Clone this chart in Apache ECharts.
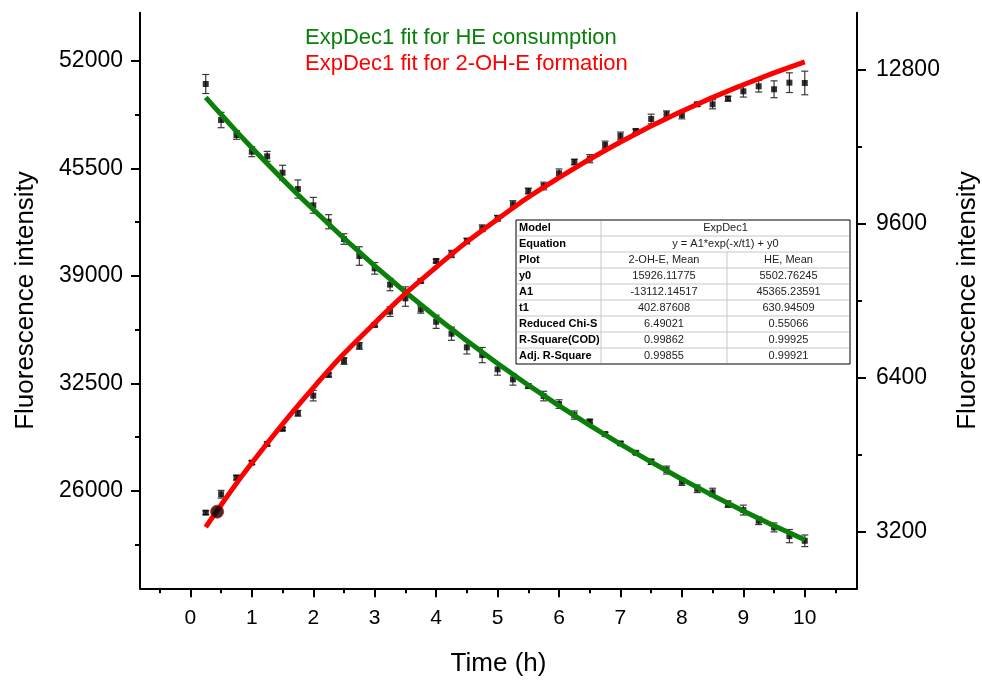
<!DOCTYPE html>
<html>
<head>
<meta charset="utf-8">
<script src="https://cdn.jsdelivr.net/npm/echarts@6/dist/echarts.min.js"></script>
<style>
  html, body { margin: 0; padding: 0; background: #fff; overflow: hidden; }
  #chart { width: 982px; height: 683px; }
</style>
</head>
<body>
<div id="chart"></div>
<script>
// sampling times (h)
const hours = [0.25, 0.5, 0.75, 1, 1.25, 1.5, 1.75, 2, 2.25, 2.5, 2.75, 3, 3.25, 3.5, 3.75, 4, 4.25, 4.5, 4.75, 5,
  5.25, 5.5, 5.75, 6, 6.25, 6.5, 6.75, 7, 7.25, 7.5, 7.75, 8, 8.25, 8.5, 8.75, 9, 9.25, 9.5, 9.75, 10];

// HE consumption (left axis)
const heMean = [50608, 48429, 47522, 46511, 46232, 45240, 44253, 43267, 42274, 41227, 40199, 39454, 38470, 37638, 36972, 36222, 35500, 34673, 34207, 33342,
  32737, 32331, 31726, 31242, 30576, 30195, 29426, 28863, 28294, 27751, 27248, 26540, 26117, 25899, 25190, 24827, 24180, 23780, 23253, 22969];
const heErr = [575, 465, 260, 300, 300, 450, 550, 480, 430, 320, 560, 350, 370, 480, 230, 400, 400, 400, 460, 350,
  350, 120, 290, 260, 250, 100, 110, 110, 100, 160, 240, 220, 230, 250, 200, 300, 230, 270, 400, 350];

// 2-OH-E formation (right axis)
const ohMean = [3596, 3979, 4324, 4636, 5025, 5336, 5663, 6029, 6459, 6750, 7062, 7499, 7775, 8191, 8413, 8829, 8975, 9244, 9509, 9717,
  10008, 10284, 10388, 10652, 10887, 10956, 11241, 11428, 11532, 11781, 11879, 11864, 12087, 12087, 12204, 12357, 12461, 12399, 12536, 12530];
const ohErr = [40, 80, 50, 40, 40, 30, 60, 110, 40, 70, 70, 40, 100, 100, 40, 40, 75, 60, 70, 60,
  75, 60, 80, 90, 60, 85, 80, 80, 40, 100, 70, 80, 40, 95, 50, 120, 120, 175, 205, 245];

// fitted curves
const fitHours = [0.25, 0.5, 1, 2, 3, 4, 5, 6, 7, 8, 9, 10];
const heFit = [49802, 48761, 46753, 43011, 39608, 36514, 33701, 31143, 28817, 26702, 24779, 23030];
const ohFit = [3293, 3755, 4628, 6192, 7539, 8699, 9699, 10561, 11303, 11943, 12494, 12969];

// highlighted point
const markPoint = [0.435, 3617];

// ticks
const xTicks = [0, 1, 2, 3, 4, 5, 6, 7, 8, 9, 10];
const xMinor = [-0.5, 0.5, 1.5, 2.5, 3.5, 4.5, 5.5, 6.5, 7.5, 8.5, 9.5, 10.5];
const leftTicks = [26000, 32500, 39000, 45500, 52000];
const leftMinor = [22750, 29250, 35750, 42250, 48750];
const rightTicks = [3200, 6400, 9600, 12800];
const rightMinor = [4800, 8000, 11200];

// fit parameter table
const tableRows = [
  ['Model', 'ExpDec1'],
  ['Equation', 'y = A1*exp(-x/t1) + y0'],
  ['Plot', '2-OH-E, Mean', 'HE, Mean'],
  ['y0', '15926.11775', '5502.76245'],
  ['A1', '-13112.14517', '45365.23591'],
  ['t1', '402.87608', '630.94509'],
  ['Reduced Chi-S', '6.49021', '0.55066'],
  ['R-Square(COD)', '0.99862', '0.99925'],
  ['Adj. R-Square', '0.99855', '0.99921']
];

const FONT = '"Liberation Sans", Arial, sans-serif';
const HE_NAME = 'ExpDec1 fit for HE consumption';
const OH_NAME = 'ExpDec1 fit for 2-OH-E formation';

const chart = echarts.init(document.getElementById('chart'));

function errBar(params, api) {
  const x = api.value(0);
  const top = api.coord([x, api.value(2)]);
  const bot = api.coord([x, api.value(1)]);
  const w = 3.5;
  const st = { stroke: '#3a3a3a', lineWidth: 1.2 };
  return {
    type: 'group',
    children: [
      { type: 'line', shape: { x1: top[0], y1: top[1], x2: bot[0], y2: bot[1] }, style: st },
      { type: 'line', shape: { x1: top[0] - w, y1: top[1], x2: top[0] + w, y2: top[1] }, style: st },
      { type: 'line', shape: { x1: bot[0] - w, y1: bot[1], x2: bot[0] + w, y2: bot[1] }, style: st }
    ]
  };
}

// table drawn with graphic elements
function buildTable() {
  const x0 = 516, x1 = 601, x2 = 727, x3 = 850, y0 = 220, rh = 16;
  const h = rh * tableRows.length;
  const els = [];
  els.push({ type: 'rect', shape: { x: x0, y: y0, width: x3 - x0, height: h },
    style: { fill: '#fff', stroke: '#000', lineWidth: 1 } });
  for (let i = 1; i < tableRows.length; i++) {
    els.push({ type: 'line', shape: { x1: x0 + 1, y1: y0 + i * rh, x2: x3 - 1, y2: y0 + i * rh },
      style: { stroke: '#c8c8c8', lineWidth: 1 } });
  }
  els.push({ type: 'line', shape: { x1: x1, y1: y0 + 1, x2: x1, y2: y0 + h - 1 }, style: { stroke: '#c8c8c8', lineWidth: 1 } });
  els.push({ type: 'line', shape: { x1: x2, y1: y0 + 2 * rh, x2: x2, y2: y0 + h - 1 }, style: { stroke: '#c8c8c8', lineWidth: 1 } });
  tableRows.forEach((row, i) => {
    const cy = y0 + i * rh + rh / 2;
    els.push({ type: 'text', x: x0 + 3, y: cy,
      style: { text: row[0], fill: '#000', font: 'bold 11px ' + FONT, verticalAlign: 'middle', textAlign: 'left' } });
    if (row.length === 2) {
      els.push({ type: 'text', x: (x1 + x3) / 2, y: cy,
        style: { text: row[1], fill: '#222', font: '11px ' + FONT, verticalAlign: 'middle', textAlign: 'center' } });
    } else {
      els.push({ type: 'text', x: (x1 + x2) / 2, y: cy,
        style: { text: row[1], fill: '#222', font: '11px ' + FONT, verticalAlign: 'middle', textAlign: 'center' } });
      els.push({ type: 'text', x: (x2 + x3) / 2, y: cy,
        style: { text: row[2], fill: '#222', font: '11px ' + FONT, verticalAlign: 'middle', textAlign: 'center' } });
    }
  });
  return { type: 'group', z: 100, children: els };
}

const axisLine = { show: true, onZero: false, lineStyle: { color: '#000', width: 2 } };
const plain = v => String(v);
const labelStyle = { color: '#000', fontSize: 23, fontFamily: FONT, formatter: plain };

const option = {
  animation: false,
  backgroundColor: '#fff',
  textStyle: { fontFamily: FONT },
  grid: { left: 140, right: 125, top: 12.7, bottom: 94.7, containLabel: false, outerBoundsMode: 'none' },
  legend: {
    left: 295, top: 22, orient: 'vertical', itemGap: 4,
    itemWidth: 0, itemHeight: 0, selectedMode: false,
    textStyle: { fontSize: 22, fontFamily: FONT },
    data: [
      { name: HE_NAME, icon: 'rect', textStyle: { color: '#0a800a' } },
      { name: OH_NAME, icon: 'rect', textStyle: { color: '#ff0000' } }
    ]
  },
  xAxis: [
    {
      type: 'value', min: -0.82, max: 10.85, position: 'bottom',
      axisLine: axisLine,
      axisTick: { show: true, customValues: xTicks, length: 9, lineStyle: { color: '#000', width: 2 } },
      axisLabel: { customValues: xTicks, margin: 19, ...labelStyle, fontSize: 21 },
      splitLine: { show: false },
      name: 'Time (h)', nameLocation: 'middle', nameGap: 63,
      nameTextStyle: { fontSize: 26, color: '#000', fontFamily: FONT }
    },
    {
      type: 'value', min: -0.82, max: 10.85, position: 'bottom',
      axisLine: { show: false, onZero: false },
      axisTick: { show: true, customValues: xMinor, length: 5, lineStyle: { color: '#000', width: 2 } },
      axisLabel: { show: false },
      splitLine: { show: false }
    }
  ],
  yAxis: [
    {
      type: 'value', min: 20095, max: 54922, position: 'left',
      axisLine: axisLine,
      axisTick: { show: true, customValues: leftTicks, length: 9, lineStyle: { color: '#000', width: 2 } },
      axisLabel: { customValues: leftTicks, margin: 17, ...labelStyle },
      splitLine: { show: false },
      name: 'Fluorescence intensity', nameLocation: 'middle', nameGap: 101, nameRotate: 90,
      nameTextStyle: { fontSize: 26, color: '#000', fontFamily: FONT }
    },
    {
      type: 'value', min: 20095, max: 54922, position: 'left',
      axisLine: { show: false, onZero: false },
      axisTick: { show: true, customValues: leftMinor, length: 5, lineStyle: { color: '#000', width: 2 } },
      axisLabel: { show: false },
      splitLine: { show: false }
    },
    {
      type: 'value', min: 2023, max: 13991, position: 'right',
      axisLine: axisLine,
      axisTick: { show: true, customValues: rightTicks, length: 9, lineStyle: { color: '#000', width: 2 } },
      axisLabel: { customValues: rightTicks, margin: 19, ...labelStyle },
      splitLine: { show: false },
      name: 'Fluorescence intensity', nameLocation: 'middle', nameGap: 98, nameRotate: 90,
      nameTextStyle: { fontSize: 26, color: '#000', fontFamily: FONT }
    },
    {
      type: 'value', min: 2023, max: 13991, position: 'right',
      axisLine: { show: false, onZero: false },
      axisTick: { show: true, customValues: rightMinor, length: 5, lineStyle: { color: '#000', width: 2 } },
      axisLabel: { show: false },
      splitLine: { show: false }
    }
  ],
  series: [
    {
      type: 'custom', name: 'HE err', yAxisIndex: 0, renderItem: errBar, z: 2,
      encode: { x: 0, y: [1, 2] },
      data: hours.map((t, i) => [t, heMean[i] - heErr[i], heMean[i] + heErr[i]])
    },
    {
      type: 'custom', name: 'OH err', yAxisIndex: 2, renderItem: errBar, z: 2,
      encode: { x: 0, y: [1, 2] },
      data: hours.map((t, i) => [t, ohMean[i] - ohErr[i], ohMean[i] + ohErr[i]])
    },
    {
      type: 'scatter', name: 'HE, Mean', yAxisIndex: 0, symbol: 'rect', symbolSize: 6, z: 3,
      itemStyle: { color: '#000' },
      data: hours.map((t, i) => [t, heMean[i]])
    },
    {
      type: 'scatter', name: '2-OH-E, Mean', yAxisIndex: 2, symbol: 'rect', symbolSize: 6, z: 3,
      itemStyle: { color: '#000' },
      data: hours.map((t, i) => [t, ohMean[i]])
    },
    {
      type: 'line', name: HE_NAME, yAxisIndex: 0, smooth: true, showSymbol: false, z: 5,
      lineStyle: { color: '#0a800a', width: 5 }, itemStyle: { color: '#0a800a' },
      data: fitHours.map((t, i) => [t, heFit[i]])
    },
    {
      type: 'line', name: OH_NAME, yAxisIndex: 2, smooth: true, showSymbol: false, z: 5,
      lineStyle: { color: '#ff0000', width: 5 }, itemStyle: { color: '#ff0000' },
      data: fitHours.map((t, i) => [t, ohFit[i]])
    },
    {
      type: 'scatter', name: 'mark', yAxisIndex: 2, symbol: 'circle', symbolSize: 13, z: 6,
      itemStyle: { color: '#000', borderColor: '#ff0000', borderWidth: 1 },
      data: [markPoint]
    }
  ],
  graphic: [buildTable()]
};

chart.setOption(option);
</script>
</body>
</html>
